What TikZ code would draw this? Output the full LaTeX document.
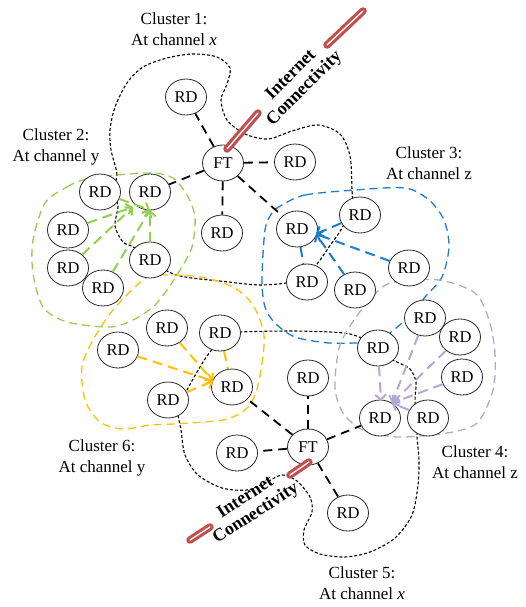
\documentclass[tikz,border=0pt]{standalone}
\usepackage{fontspec}
\setmainfont{Liberation Serif}
\usetikzlibrary{shapes.geometric,arrows.meta,backgrounds}
\definecolor{cgreen}{HTML}{92D050}
\definecolor{cblue}{HTML}{1C7CCF}
\definecolor{cyellow}{HTML}{FFC000}
\definecolor{cpurple}{HTML}{B4A7D6}
\definecolor{cred}{HTML}{C0504D}
\begin{document}
\begin{tikzpicture}[x=1pt,y=-1pt,
  rd/.style={ellipse,draw=black!85,line width=0.8pt,fill=white,minimum width=41pt,minimum height=36pt,inner sep=0pt,font=\fontsize{16.5}{18}\selectfont},
  ftedge/.style={line width=1.8pt,dash pattern=on 9pt off 6pt},
  bound/.style={line width=1.1pt,dash pattern=on 3pt off 2pt},
  cbound/.style={line width=1.3pt,dash pattern=on 8pt off 5pt},
  carrow/.style={line width=2pt,dash pattern=on 10pt off 6pt,-{Straight Barb[length=5pt,width=11pt,line width=2pt]}},
  cline/.style={line width=2pt,dash pattern=on 10pt off 6pt},
  lbl/.style={align=center,font=\fontsize{17}{21}\selectfont},
  inetlbl/.style={align=center,font=\fontsize{18}{19}\selectfont\bfseries},
  inet/.style={draw=cred,line width=7.5pt,line cap=round,postaction={draw=white,line width=1.3pt,line cap=round}}]
\useasboundingbox (0,0) rectangle (525,607);

% nodes
\node[rd] (FT1) at (223,163) {FT};
\node[rd] (a1) at (186,97) {RD};
\node[rd] (a2) at (295,162) {RD};
\node[rd] (a3) at (222,233) {RD};
\node[rd] (b1) at (100,192) {RD};
\node[rd] (b2) at (150,192) {RD};
\node[rd] (b3) at (68,230) {RD};
\node[rd] (b4) at (68,268) {RD};
\node[rd] (b5) at (150,260) {RD};
\node[rd] (b6) at (103,288) {RD};
\node[rd] (c1) at (297,229) {RD};
\node[rd] (c2) at (360,215) {RD};
\node[rd] (c3) at (307,282) {RD};
\node[rd] (c4) at (355,290) {RD};
\node[rd] (c5) at (409,268) {RD};
\node[rd] (d1) at (425,318) {RD};
\node[rd] (d2) at (460,337) {RD};
\node[rd] (d3) at (462,377) {RD};
\node[rd] (d4) at (378,348) {RD};
\node[rd] (d5) at (380,418) {RD};
\node[rd] (d6) at (428,418) {RD};
\node[rd] (f1) at (118,350) {RD};
\node[rd] (f2) at (167,328) {RD};
\node[rd] (f3) at (220,333) {RD};
\node[rd] (f4) at (232,387) {RD};
\node[rd] (f5) at (168,400) {RD};
\node[rd] (FT2) at (308,447) {FT};
\node[rd] (e1) at (308,378) {RD};
\node[rd] (e2) at (237,453) {RD};
\node[rd] (e3) at (348,513) {RD};

% labels
\node[lbl] (l1) at (174,29) {Cluster 1:\\At channel \textit{x}};
\node[lbl] (l2) at (56,147) {Cluster 2:\\At channel y};
\node[lbl] (l3) at (429,163) {Cluster 3:\\At channel z};
\node[lbl] (l4) at (475,462) {Cluster 4:\\At channel z};
\node[lbl] (l5) at (362,583) {Cluster 5:\\At channel \textit{x}};
\node[lbl] (l6) at (102,458) {Cluster 6:\\At channel y};
\node[inetlbl,rotate=45] (i1) at (298,82) {Internet\\Connectivity};
\node[inetlbl,rotate=33] (i2) at (251,506) {Internet\\Connectivity};

% boundaries
\begin{scope}[on background layer]
\draw[bound] plot[smooth cycle] coordinates {(112,192) (117,175) (111,150) (110,130) (115,107) (127,83) (143,67) (167,58) (193,54) (217,57) (230,68) (227,84) (221,100) (227,120) (245,134) (268,139) (292,131) (318,125) (340,134) (350,156) (352,190) (352,205) (342,228) (329,247) (317,264) (300,280) (262,285) (220,281) (185,277) (165,270) (135,248) (123,242) (115,226) (118,205)};
\draw[bound] plot[smooth cycle] coordinates {(210,352) (225,335) (240,332) (290,331) (330,332) (350,334) (365,340) (385,356) (397,362) (410,369) (416,382) (415,400) (417,420) (417,437) (419,460) (418,485) (412,515) (395,538) (370,552) (345,557) (320,554) (305,545) (304,530) (312,512) (310,497) (297,481) (282,475) (265,483) (247,490) (222,488) (198,475) (185,455) (181,430) (178,410) (187,390) (200,367)};
\draw[cbound,cgreen] plot[smooth cycle] coordinates {(45,203) (67,187) (83,180) (117,175) (153,173) (173,178) (187,195) (195,217) (192,247) (180,270) (167,290) (153,307) (133,320) (110,327) (67,322) (43,307) (33,273) (33,240)};
\draw[cbound,cyellow] plot[smooth cycle] coordinates {(143,280) (160,275) (200,277) (233,287) (253,305) (264,335) (261,370) (255,395) (245,410) (223,420) (173,424) (150,425) (123,429) (100,422) (85,400) (82,367) (93,340) (113,310)};
\draw[cbound,cblue] plot[smooth cycle] coordinates {(282,205) (305,195) (355,190) (405,188) (429,200) (444,220) (449,247) (442,277) (425,297) (414,312) (402,323) (390,333) (375,345) (362,343) (329,343) (295,337) (275,323) (265,307) (262,280) (265,230) (272,213)};
\draw[cbound,cpurple] plot[smooth cycle] coordinates {(379,290) (395,282) (439,280) (475,293) (489,320) (495,353) (493,390) (477,423) (447,433) (397,437) (363,430) (343,413) (335,387) (340,345) (359,313)};
\end{scope}

% FT edges
\foreach \n in {a1,a2,a3,c1,b2} \draw[ftedge] (FT1) -- (\n);
\foreach \n in {e1,e2,e3,d5,f4} \draw[ftedge] (FT2) -- (\n);

% arrow targets
\coordinate (T1) at (133,207);
\coordinate (T2) at (150,210);
\coordinate (B) at (316,234);
\coordinate (Y) at (213,381);
\coordinate (P) at (392,403);
\coordinate (P1) at (381,401);

\foreach \n in {b3,b4} \draw[carrow,cgreen] (\n) -- (T1);
\foreach \n in {b1,b5,b6} \draw[carrow,cgreen] (\n) -- (T2);
\foreach \n in {c2,c5,c4} \draw[carrow,cblue] (\n) -- (B);
\draw[cline,cblue] (c1) -- (c3);
\foreach \n in {f1,f2,f5} \draw[carrow,cyellow] (\n) -- (Y);
\draw[cline,cyellow] (f3) -- (f4);
\foreach \n in {d1,d2,d3,d6} \draw[carrow,cpurple] (\n) -- (P);
\draw[carrow,cpurple] (d4) -- (P1);

% internet connectivity
\coordinate (ra0) at (227,149);
\coordinate (ra1) at (258,113);
\coordinate (rb0) at (327,45);
\coordinate (rb1) at (363,11);
\draw[inet] (ra0) -- (ra1);
\draw[inet] (rb0) -- (rb1);
\coordinate (rc0) at (309,462);
\coordinate (rc1) at (290,475);
\coordinate (rd0) at (210,527);
\coordinate (rd1) at (190,540);
\draw[inet] (rc0) -- (rc1);
\draw[inet] (rd0) -- (rd1);
\end{tikzpicture}
\end{document}
